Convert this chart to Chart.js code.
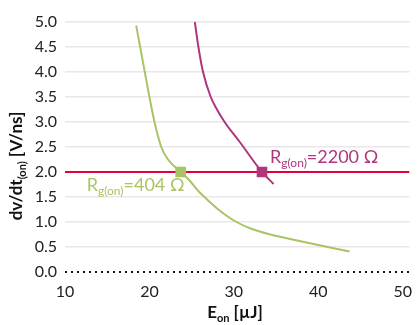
<!DOCTYPE html>
<html><head><meta charset="utf-8">
<script src="https://cdn.jsdelivr.net/npm/chart.js@4/dist/chart.umd.min.js"></script>
<style>html,body{margin:0;padding:0;background:#fff}#wrap{width:417px;height:325px}</style>
</head><body><div id="wrap"><canvas id="c" width="417" height="325"></canvas></div>
<script>
const greenX = [18.43, 18.9, 19.45, 20.0, 20.6, 21.4, 22.2, 23.7, 24.7, 25.9, 26.7, 28.24, 30.2, 32.15, 34.1, 38.04, 43.7];
const greenY = [4.93, 4.5, 4.0, 3.5, 3.0, 2.5, 2.25, 2.0, 1.84, 1.6, 1.47, 1.24, 1.01, 0.86, 0.76, 0.61, 0.41];
const magX = [25.38, 25.8, 26.35, 27.26, 28.0, 28.9, 30.7, 33.33, 34.7];
const magY = [5.0, 4.5, 4.0, 3.5, 3.25, 3.0, 2.6, 2.0, 1.76];
const limitX = [10, 50.8];
const limitY = [2.0, 2.0];
const markerGreen = {x: 23.7, y: 2.0};
const markerMag = {x: 33.33, y: 2.0};
const xTicks = [10, 20, 30, 40, 50];
const yTicks = [0, 0.5, 1, 1.5, 2, 2.5, 3, 3.5, 4, 4.5, 5];
const labels = [
  {main: 'R', sub: 'g(on)', rest: '=2200 Ω', x: 33.33, y: 2.0, dx: 8, dy: -9, color: '#b0367c'},
  {main: 'R', sub: 'g(on)', rest: '=404 Ω', x: 23.7, y: 2.0, dx: -94, dy: 19, color: '#a8c466'}
];
const GREEN = '#a8c466', MAG = '#b0367c', RED = '#e4003a';
const FONT = 'Lato';

const zip = (xs, ys) => xs.map((x, i) => ({x, y: ys[i]}));

function drawSubText(ctx, x, y, parts, fontMain, fontSub, subDy, color, align) {
  ctx.save();
  ctx.fillStyle = color;
  ctx.textBaseline = 'alphabetic';
  ctx.textAlign = 'left';
  let w = 0;
  for (const p of parts) { ctx.font = p.sub ? fontSub : fontMain; w += ctx.measureText(p.t).width; }
  let cx = align === 'center' ? x - w / 2 : x;
  for (const p of parts) {
    ctx.font = p.sub ? fontSub : fontMain;
    ctx.fillText(p.t, cx, y + (p.sub ? subDy : 0));
    cx += ctx.measureText(p.t).width;
  }
  ctx.restore();
}

const deco = {
  id: 'deco',
  beforeDatasetsDraw(chart) {
    const {ctx, chartArea, scales} = chart;
    const y0 = scales.y.getPixelForValue(0);
    ctx.save();
    ctx.strokeStyle = '#111';
    ctx.lineWidth = 2;
    ctx.setLineDash([2, 4]);
    ctx.beginPath();
    ctx.moveTo(chartArea.left, y0);
    ctx.lineTo(chartArea.right, y0);
    ctx.stroke();
    ctx.restore();
  },
  afterDraw(chart) {
    const {ctx, scales} = chart;
    for (const l of labels) {
      const px = scales.x.getPixelForValue(l.x) + l.dx;
      const py = scales.y.getPixelForValue(l.y) + l.dy;
      drawSubText(ctx, px, py, [{t: l.main}, {t: l.sub, sub: true}, {t: l.rest}],
        '18px ' + FONT, '12px ' + FONT, 4, l.color, 'left');
    }
    drawSubText(ctx, 235, 318, [{t: 'E'}, {t: 'on', sub: true}, {t: ' [µJ]'}],
      'bold 17px ' + FONT, 'bold 11px ' + FONT, 4, '#111', 'center');
    ctx.save();
    ctx.translate(22, 166);
    ctx.rotate(-Math.PI / 2);
    drawSubText(ctx, 0, 0, [{t: 'dv/dt'}, {t: '(on)', sub: true}, {t: ' [V/ns]'}],
      'bold 17px ' + FONT, 'bold 11px ' + FONT, 4, '#111', 'center');
    ctx.restore();
  }
};

new Chart(document.getElementById('c'), {
  type: 'scatter',
  data: {
    datasets: [
      {data: [markerGreen], pointStyle: 'rect', pointRadius: 7.5, backgroundColor: GREEN, borderColor: GREEN, borderWidth: 0, order: 0},
      {data: [markerMag], pointStyle: 'rect', pointRadius: 7.5, backgroundColor: MAG, borderColor: MAG, borderWidth: 0, order: 0},
      {data: zip(greenX, greenY), showLine: true, borderColor: GREEN, borderWidth: 2, pointRadius: 0, cubicInterpolationMode: 'monotone', order: 1},
      {data: zip(magX, magY), showLine: true, borderColor: MAG, borderWidth: 2, pointRadius: 0, cubicInterpolationMode: 'monotone', order: 1},
      {data: zip(limitX, limitY), showLine: true, borderColor: RED, borderWidth: 2, pointRadius: 0, order: 2}
    ]
  },
  options: {
    responsive: false,
    animation: false,
    events: [],
    layout: {padding: {top: 22, right: 5, left: 0, bottom: 0}},
    plugins: {legend: {display: false}, tooltip: {enabled: false}},
    scales: {
      x: {
        type: 'linear', min: 10, max: 50.8,
        afterBuildTicks: s => { s.ticks = xTicks.map(v => ({value: v})); },
        afterFit: s => { s.height = 53; s.paddingLeft = 0; s.paddingRight = 0; },
        grid: {display: false, drawTicks: false},
        border: {display: false},
        ticks: {padding: 10, color: '#222', font: {family: FONT, size: 16}}
      },
      y: {
        type: 'linear', min: 0, max: 5,
        afterBuildTicks: s => { s.ticks = yTicks.map(v => ({value: v})); },
        afterFit: s => { s.width = 65; s.paddingTop = 0; s.paddingBottom = 0; },
        grid: {drawTicks: false, lineWidth: 1.5, color: c => c.tick && c.tick.value === 0 ? 'rgba(0,0,0,0)' : '#ece6ea'},
        border: {display: false},
        ticks: {padding: 8, color: '#222', font: {family: FONT, size: 16}, callback: v => Number(v).toFixed(1)}
      }
    }
  },
  plugins: [deco]
});
</script></body></html>
